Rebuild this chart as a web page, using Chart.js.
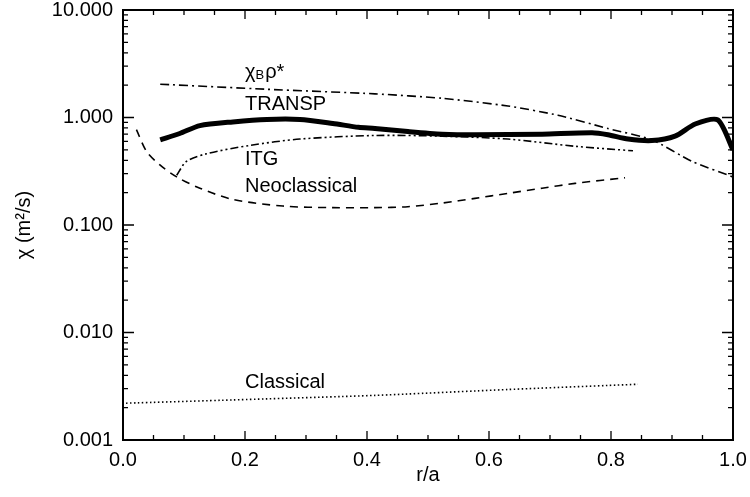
<!DOCTYPE html>
<html>
<head>
<meta charset="utf-8">
<script src="https://cdn.jsdelivr.net/npm/chart.js@4.4.1/dist/chart.umd.min.js"></script>
<style>
  html, body { margin: 0; padding: 0; background: #fff; }
  #wrap { width: 750px; height: 497px; }
</style>
</head>
<body>
<div id="wrap"><canvas id="chiChart"></canvas></div>
<script>
// radial profiles, r/a vs chi (m^2/s)
const transpR   = [0.061, 0.093, 0.126, 0.18, 0.236, 0.29, 0.344, 0.386, 0.413, 0.467, 0.523, 0.577, 0.687, 0.769, 0.795, 0.828, 0.867, 0.905, 0.938, 0.975, 1.0];
const transpChi = [0.62, 0.71, 0.84, 0.91, 0.96, 0.96, 0.88, 0.81, 0.79, 0.74, 0.70, 0.69, 0.70, 0.72, 0.69, 0.63, 0.61, 0.67, 0.87, 0.95, 0.50];

const bohmR   = [0.061, 0.236, 0.413, 0.523, 0.631, 0.713, 0.795, 0.867, 0.933, 1.0];
const bohmChi = [2.04, 1.83, 1.66, 1.51, 1.28, 1.05, 0.79, 0.62, 0.39, 0.28];

const itgR   = [0.088, 0.104, 0.137, 0.208, 0.29, 0.413, 0.523, 0.631, 0.741, 0.836];
const itgChi = [0.29, 0.39, 0.46, 0.55, 0.63, 0.68, 0.67, 0.63, 0.54, 0.49];

const neoR   = [0.022, 0.039, 0.061, 0.088, 0.126, 0.18, 0.262, 0.344, 0.413, 0.467, 0.523, 0.577, 0.631, 0.687, 0.741, 0.823];
const neoChi = [0.77, 0.48, 0.36, 0.28, 0.22, 0.173, 0.15, 0.145, 0.145, 0.148, 0.16, 0.177, 0.197, 0.22, 0.244, 0.275];

const classR   = [0.005, 0.18, 0.413, 0.631, 0.844];
const classChi = [0.0022, 0.00236, 0.0026, 0.00295, 0.0033];

const xTicks = [0, 0.2, 0.4, 0.6, 0.8, 1.0];
const yTicks = [0.001, 0.01, 0.1, 1, 10];

// curve labels: [text, r/a, chi] placed on the data scales
const curveLabels = [
  ["TRANSP", 0.2, 1.17],
  ["ITG", 0.2, 0.361],
  ["Neoclassical", 0.2, 0.203],
  ["Classical", 0.2, 0.00305]
];
const bohmLabelAt = [0.2, 2.33];

const FONT = "'Liberation Sans', Arial, Helvetica, sans-serif";

function pts(xs, ys) {
  return xs.map((x, i) => ({ x: x, y: ys[i] }));
}

function lineSet(label, xs, ys, width, dash, tension) {
  return {
    label: label,
    data: pts(xs, ys),
    borderColor: "#000",
    borderWidth: width,
    borderDash: dash,
    pointRadius: 0,
    tension: tension,
    fill: false
  };
}

// frame, inward ticks on all four sides and the curve labels
const framePlugin = {
  id: "frame",
  afterDraw(chart) {
    const ctx = chart.ctx;
    const a = chart.chartArea;
    const xs = chart.scales.x;
    const ys = chart.scales.y;
    ctx.save();
    ctx.strokeStyle = "#000";
    ctx.lineWidth = 2;
    ctx.strokeRect(a.left, a.top, a.right - a.left, a.bottom - a.top);

    ctx.lineWidth = 1.3;
    ctx.beginPath();
    for (let i = 0; i <= 20; i++) {
      const v = i * 0.05;
      const px = xs.getPixelForValue(v);
      const len = (i % 4 === 0) ? 9 : 5;
      ctx.moveTo(px, a.bottom); ctx.lineTo(px, a.bottom - len);
      ctx.moveTo(px, a.top); ctx.lineTo(px, a.top + len);
    }
    for (let d = -3; d < 1; d++) {
      for (let m = 1; m <= 9; m++) {
        const v = m * Math.pow(10, d);
        const py = ys.getPixelForValue(v);
        const len = (m === 1) ? 11 : 5;
        ctx.moveTo(a.left, py); ctx.lineTo(a.left + len, py);
        ctx.moveTo(a.right, py); ctx.lineTo(a.right - len, py);
      }
    }
    ctx.stroke();

    ctx.fillStyle = "#000";
    ctx.textBaseline = "alphabetic";
    ctx.textAlign = "left";
    ctx.font = "20px " + FONT;
    curveLabels.forEach(l => {
      ctx.fillText(l[0], xs.getPixelForValue(l[1]), ys.getPixelForValue(l[2]));
    });

    // chi_B rho*
    let bx = xs.getPixelForValue(bohmLabelAt[0]);
    const by = ys.getPixelForValue(bohmLabelAt[1]);
    ctx.fillText("χ", bx, by);
    bx += ctx.measureText("χ").width;
    ctx.font = "13px " + FONT;
    ctx.fillText("B", bx, by + 1);
    bx += ctx.measureText("B").width + 1;
    ctx.font = "20px " + FONT;
    ctx.fillText("ρ*", bx, by);
    ctx.restore();
  }
};

new Chart(document.getElementById("chiChart"), {
  type: "line",
  data: {
    datasets: [
      lineSet("TRANSP", transpR, transpChi, 5, [], 0.25),
      lineSet("chiB rho*", bohmR, bohmChi, 1.6, [9, 4, 2, 4], 0.2),
      lineSet("ITG", itgR, itgChi, 1.6, [8, 3, 2, 3, 2, 3], 0.3),
      lineSet("Neoclassical", neoR, neoChi, 1.6, [8, 6], 0.3),
      lineSet("Classical", classR, classChi, 1.6, [1.5, 2.5], 0.2)
    ]
  },
  options: {
    responsive: true,
    maintainAspectRatio: false,
    animation: false,
    layout: { padding: { top: 10, right: 17, bottom: 0, left: 0 } },
    plugins: {
      legend: { display: false },
      tooltip: { enabled: false }
    },
    scales: {
      x: {
        type: "linear",
        min: 0,
        max: 1,
        grid: { display: false, drawTicks: false },
        border: { display: false },
        afterBuildTicks: s => { s.ticks = xTicks.map(v => ({ value: v })); },
        afterFit: s => { s.height = 57; s.paddingLeft = 0; s.paddingRight = 0; },
        ticks: {
          color: "#000",
          padding: 8,
          maxRotation: 0,
          font: { family: FONT, size: 20 },
          callback: v => Number(v).toFixed(1)
        },
        title: {
          display: true,
          text: "r/a",
          color: "#000",
          padding: { top: 0, bottom: 10 },
          font: { family: FONT, size: 20 }
        }
      },
      y: {
        type: "logarithmic",
        min: 0.001,
        max: 10,
        grid: { display: false, drawTicks: false },
        border: { display: false },
        afterBuildTicks: s => { s.ticks = yTicks.map(v => ({ value: v })); },
        afterFit: s => { s.width = 123; s.paddingTop = 0; s.paddingBottom = 0; },
        ticks: {
          color: "#000",
          padding: 10,
          font: { family: FONT, size: 20 },
          callback: v => Number(v).toFixed(3)
        },
        title: {
          display: true,
          text: "χ (m²/s)",
          color: "#000",
          padding: { top: 12, bottom: 0 },
          font: { family: FONT, size: 20 }
        }
      }
    }
  },
  plugins: [framePlugin]
});
</script>
</body>
</html>
